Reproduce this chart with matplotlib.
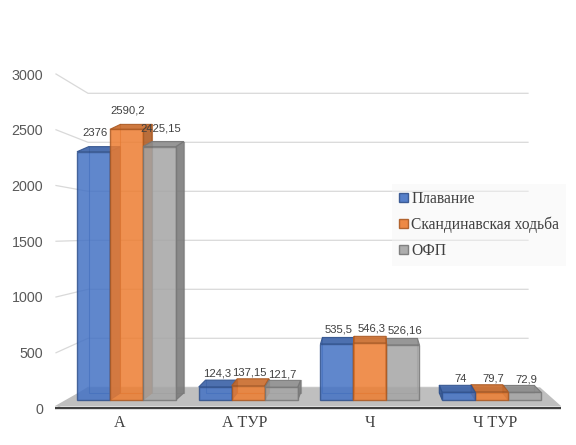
import matplotlib.pyplot as plt
from matplotlib.patches import Polygon, Patch
from matplotlib.colors import to_rgb

# data
categories = ['А', 'А ТУР', 'Ч', 'Ч ТУР']
series = ['Плавание', 'Скандинавская ходьба', 'ОФП']
swim = [2376, 124.3, 535.5, 74]
walk = [2590.2, 137.15, 546.3, 79.7]
ofp = [2425.15, 121.7, 526.16, 72.9]
yticks = [0, 500, 1000, 1500, 2000, 2500, 3000]
colors = ['#4472C4', '#ED7D31', '#A5A5A5']
values = [swim, walk, ofp]

# fake 3d scene (pixel layout of the excel chart)
W, H = 576, 445
XV = 369            # vanishing x
BW = 33             # bar width
LEFT, BOTTOM = 50, 412


def front_y(v):      # side wall front edge / tick plane
    return 408.5 - 0.1115 * v


def wall_y(v):       # back wall
    return 387.3 - 0.098 * v


def back_y(v):       # back of the bars
    return 393 - 0.1037 * v


def to_data(py):     # pixel row -> value on bar front plane
    return (400 - py) / 0.1045


def shade(c, f):
    r, g, b = to_rgb(c)
    return (r * f, g * f, b * f)


fig = plt.figure(figsize=(W / 100, H / 100), dpi=100)
ax = fig.add_axes([LEFT / W, (H - BOTTOM) / H, (W - LEFT) / W, BOTTOM / H])
ax.set_xlim(LEFT, W)
ax.set_ylim(to_data(BOTTOM), to_data(0))
ax.patch.set_alpha(0)
for s in ax.spines.values():
    s.set_visible(False)

# walls grid
for t in yticks:
    yb = to_data(wall_y(t))
    ax.plot([56, 88, 528], [to_data(front_y(t)), yb, yb], color='#D9D9D9',
            lw=0.9, zorder=1, clip_on=False)

# floor
floor = [(55, to_data(406)), (88, to_data(wall_y(0))),
         (540, to_data(wall_y(0))), (561, to_data(406))]
ax.add_patch(Polygon(floor, closed=True, fc='#BFBFBF', ec='none', zorder=2))
ax.plot([55, 561], [to_data(407.6)] * 2, color='#404040', lw=1.7, zorder=3,
        solid_capstyle='butt')

# bars
bars = []
for i in range(len(categories)):
    xc = XV + (120 + 125 * i - XV) * 0.974
    for j in range(3):
        x0 = xc - 1.5 * BW + BW * j
        bars.append((abs(x0 + BW / 2 - XV), i, j, x0))
bars.sort(key=lambda b: -b[0])

z = 4
for _, i, j, x0 in bars:
    v = values[j][i]
    x1 = x0 + BW
    d0 = (XV - x0) * 0.04
    d1 = (XV - x1) * 0.04
    base = colors[j]
    edge = shade(base, 0.72)
    yb0 = to_data(back_y(0))
    ybt = to_data(back_y(v))
    ax.plot([x0 + d0, x0 + d0, x1 + d1, x1 + d1], [ybt, yb0, yb0, ybt],
            color=edge, lw=0.8, alpha=0.6, zorder=z)
    if x0 + BW / 2 < XV:
        side = [(x1, 0), (x1, v), (x1 + d1, ybt), (x1 + d1, yb0)]
    else:
        side = [(x0, 0), (x0, v), (x0 + d0, ybt), (x0 + d0, yb0)]
    top = [(x0, v), (x1, v), (x1 + d1, ybt), (x0 + d0, ybt)]
    ax.add_patch(Polygon(side, closed=True, fc=shade(base, 0.75), ec=edge,
                         lw=0.8, alpha=0.9, zorder=z + 0.1))
    ax.add_patch(Polygon(top, closed=True, fc=shade(base, 0.85), ec=edge,
                         lw=0.8, alpha=0.9, zorder=z + 0.2))
    ax.bar(x0, v, width=BW, align='edge', color=base, alpha=0.85,
           edgecolor=edge, lw=1, zorder=z + 0.3)
    lab = f'{v:g}'.replace('.', ',')
    ax.text(x0 + BW / 2 + 1.5, to_data(back_y(v) - 6 - 0.003 * v), lab,
            ha='center', va='center', fontsize=8.1, color='#404040',
            family='Liberation Sans', zorder=50)
    z += 1

# axes text
ax.set_yticks([to_data(front_y(t)) for t in yticks], [str(t) for t in yticks])
ax.set_xticks([120 + 125 * i for i in range(len(categories))], categories)
ax.tick_params(axis='y', length=0, pad=5, labelsize=10.3, labelcolor='#595959')
ax.tick_params(axis='x', length=0, pad=2.5, labelsize=11.5, labelcolor='#404040')
for lbl in ax.get_yticklabels():
    lbl.set_family('Liberation Sans')
for lbl in ax.get_xticklabels():
    lbl.set_family('Liberation Serif')

# legend
handles = [Patch(facecolor=c, edgecolor=shade(c, 0.72), alpha=0.9) for c in colors]
leg = ax.legend(handles, series, loc='upper left',
                bbox_to_anchor=(392 / W, 1 - 184 / H), bbox_transform=fig.transFigure,
                prop={'family': 'Liberation Serif', 'size': 11.2},
                frameon=True, fancybox=False, handlelength=0.55, handleheight=0.55,
                handletextpad=0.25, labelspacing=0.62, borderpad=0.45,
                borderaxespad=0)
leg.get_frame().set_facecolor('#F4F4F4')
leg.get_frame().set_alpha(0.45)
leg.get_frame().set_edgecolor('none')
for t in leg.get_texts():
    t.set_color('#404040')
leg.set_zorder(60)

fig.savefig('out.png', dpi=100)
